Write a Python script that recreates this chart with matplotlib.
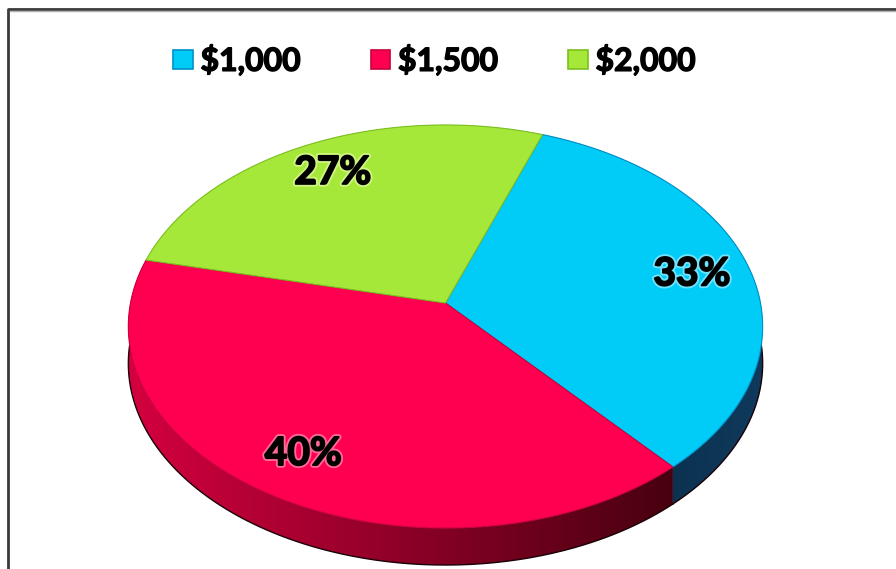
import numpy as np
import matplotlib
matplotlib.use('Agg')
import matplotlib.pyplot as plt
from matplotlib.patches import Polygon, Patch
from matplotlib.colors import LinearSegmentedColormap
import matplotlib.patheffects as pe

plt.rcParams['font.family'] = ['Lato', 'DejaVu Sans']

labels = ['$1,000', '$1,500', '$2,000']
shares = [33, 40, 27]
top_colors = ['#00ccf7', '#ff0050', '#a6e83a']
edge_colors = ['#0090c8', '#c8003c', '#7cc020']
side_left = ['#082640', '#d4003f', '#7fb82a']
side_right = ['#0f3a5c', '#48000f', '#5a8a1a']
glow_colors = ['#b8f4ff', '#ffb0c8', '#eaffb0']

# where the pie sits, in pixels (y grows downward)
cx, cy = 445.5, 303
rx, ry = 315, 198.8
tilt = 0.1166
depth = 37


def project(u, v):
    # cheap perspective: the far side of the disc is squeezed a bit
    w = 1 + tilt * v
    return cx + rx * u / w, cy - ry * v / w


fig = plt.figure(figsize=(8.96, 5.69), dpi=100)
ax = fig.add_axes([0, 0, 1, 1])

wedges, texts, autotexts = ax.pie(shares, startangle=70, counterclock=False,
                                  autopct='%d%%', pctdistance=0.81)

for i, wdg in enumerate(wedges):
    t = np.radians(np.linspace(wdg.theta1, wdg.theta2, 300))
    xs, ys = project(np.cos(t), np.sin(t))
    wdg.remove()

    # side band
    side = np.column_stack([np.r_[xs, xs[::-1]], np.r_[ys, ys[::-1] + depth]])
    band = Polygon(side, closed=True, facecolor='none', edgecolor='none')
    ax.add_patch(band)
    cmap = LinearSegmentedColormap.from_list('s%d' % i, [side_left[i], side_right[i]])
    grad = np.linspace(0, 1, 256).reshape(1, -1)
    img = ax.imshow(grad, cmap=cmap, aspect='auto', zorder=1,
                    extent=(xs.min(), xs.max(), ys.max() + depth, ys.min()))
    img.set_clip_path(band)
    ax.plot(xs, ys + depth, color='#1a0008', lw=1.0, zorder=1.5)

    # top face
    top = np.column_stack([np.r_[cx, xs], np.r_[cy, ys]])
    ax.add_patch(Polygon(top, closed=True, facecolor=top_colors[i],
                         edgecolor=edge_colors[i], lw=0.8, zorder=2))

for i, txt in enumerate(autotexts):
    u, v = txt.get_position()
    txt.set_position(project(u, v))
    txt.set_fontsize(28)
    txt.set_fontweight('bold')
    txt.set_color('black')
    txt.set_zorder(3)
    txt.set_path_effects([pe.withStroke(linewidth=4, foreground=glow_colors[i], alpha=0.6),
                          pe.withStroke(linewidth=1.3, foreground='black')])

ax.set_aspect('auto')
ax.set_xlim(0, 896)
ax.set_ylim(569, 0)
ax.axis('off')

# chart border (runs off the right and bottom edges)
ax.plot([8, 8, 900], [580, 9, 9], color='#3a3a3a', lw=2, clip_on=False, zorder=5)
ax.plot([10, 900], [11, 11], color='#b0b0b0', lw=1, clip_on=False, zorder=5)

handles = [Patch(facecolor=top_colors[i], edgecolor=edge_colors[i], lw=1.2) for i in range(3)]
leg = fig.legend(handles, labels, loc='center', bbox_to_anchor=(434.5 / 896, 1 - 60 / 569),
                 ncol=3, frameon=False, prop={'weight': 'bold', 'size': 23},
                 handlelength=0.6, handleheight=0.5, handletextpad=0.25, columnspacing=2.2)
for t in leg.get_texts():
    t.set_path_effects([pe.withStroke(linewidth=1.0, foreground='black')])

fig.savefig('out.png', dpi=100, facecolor='white')
